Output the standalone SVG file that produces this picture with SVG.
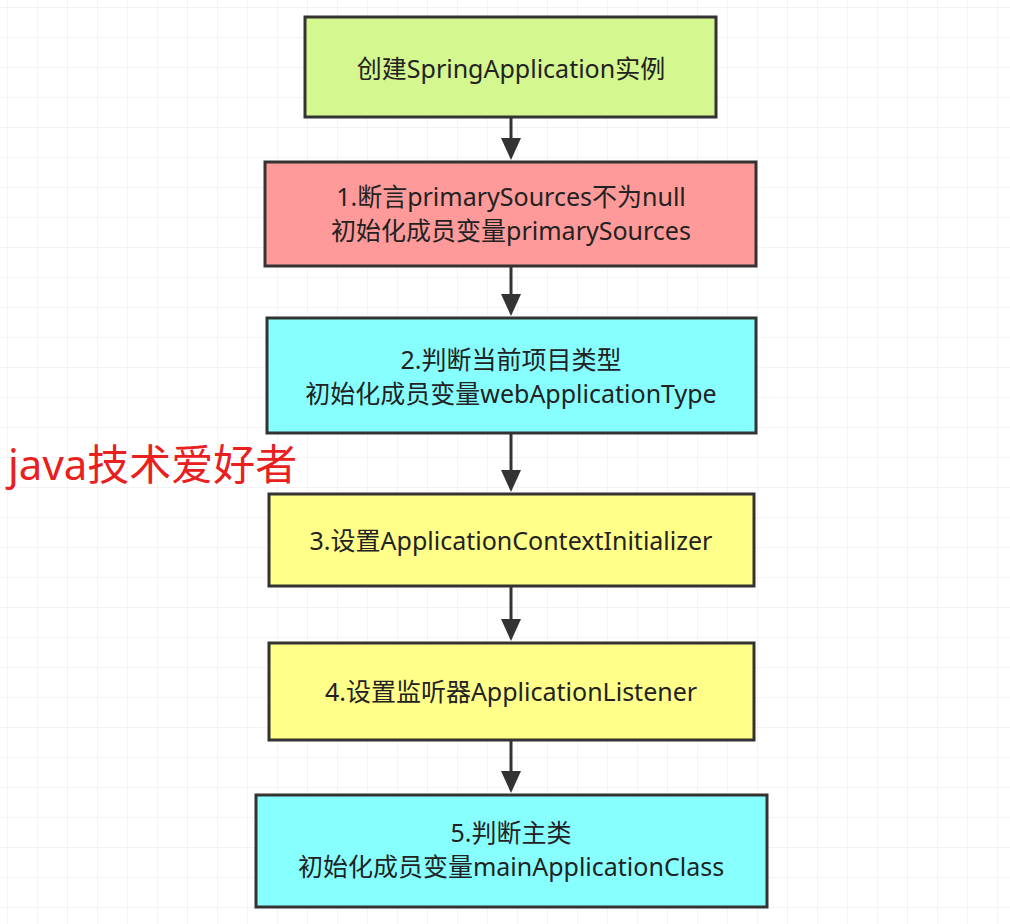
<svg xmlns="http://www.w3.org/2000/svg" width="1010" height="924" viewBox="0 0 1010 924">
<defs>
<pattern id="grid" x="8" y="8" width="30" height="30" patternUnits="userSpaceOnUse">
<path d="M30 0V30M0 30H30" fill="none" stroke="#e8e8e8" stroke-width="1"/>
</pattern>
<style>
.b{stroke:#333;stroke-width:3}
.t{font-family:"Noto Sans","Noto Sans CJK SC",sans-serif;font-size:25px;fill:#222;text-anchor:middle}
.c{stroke:#333;stroke-width:3;fill:none}
.h{fill:#333}
</style>
</defs>
<rect width="1010" height="924" fill="#fff"/>
<rect width="1010" height="924" fill="url(#grid)"/>
<g id="connectors">
<path class="c" d="M511 118V144"/>
<path class="h" d="M501 138L511 160L521 138Z"/>
<path class="c" d="M511 267V300"/>
<path class="h" d="M501 294L511 316L521 294Z"/>
<path class="c" d="M511 434V476"/>
<path class="h" d="M501 470L511 492L521 470Z"/>
<path class="c" d="M511 587V625"/>
<path class="h" d="M501 619L511 641L521 619Z"/>
<path class="c" d="M511 741V777"/>
<path class="h" d="M501 771L511 793L521 771Z"/>
</g>
<g id="n0"><rect class="b" x="305" y="17" width="411" height="100" fill="#d4f78f"/><text class="t" x="511" y="78">创建SpringApplication实例</text></g>
<g id="n1"><rect class="b" x="265" y="162" width="491" height="104" fill="#ff9a9a"/><text class="t" x="511" y="206">1.断言primarySources不为null</text><text class="t" x="511" y="240">初始化成员变量primarySources</text></g>
<g id="n2"><rect class="b" x="267" y="318" width="489" height="115" fill="#88ffff"/><text class="t" x="511" y="369">2.判断当前项目类型</text><text class="t" x="511" y="403">初始化成员变量webApplicationType</text></g>
<g id="n3"><rect class="b" x="269" y="494" width="485" height="92" fill="#ffff8a"/><text class="t" x="511" y="550">3.设置ApplicationContextInitializer</text></g>
<g id="n4"><rect class="b" x="269" y="643" width="485" height="97" fill="#ffff8a"/><text class="t" x="511" y="701">4.设置监听器ApplicationListener</text></g>
<g id="n5"><rect class="b" x="256" y="795" width="511" height="112" fill="#88ffff"/><text class="t" x="511" y="842">5.判断主类</text><text class="t" x="511" y="876">初始化成员变量mainApplicationClass</text></g>
<text x="8" y="480" font-family="'Noto Sans','Noto Sans CJK SC',sans-serif" font-size="42" fill="#e8201e">java技术爱好者</text>
</svg>
